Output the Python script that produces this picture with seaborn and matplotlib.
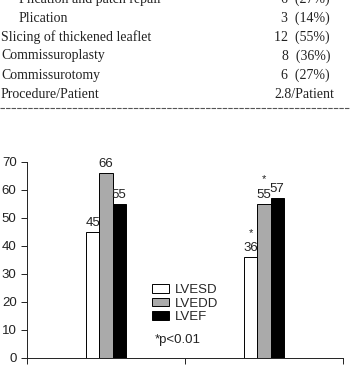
import pandas as pd
import matplotlib.pyplot as plt
import matplotlib.patches as mpatches
import seaborn as sns

# --- DATA ---
table_rows = ['Plication and patch repair', 'Plication', 'Slicing of thickened leaflet',
              'Commissuroplasty', 'Commissurotomy', 'Procedure/Patient']
table_values = ['6 (27%)', '3 (14%)', '12 (55%)', '8 (36%)', '6 (27%)', '2.8/Patient']
table_indent = [True, True, False, False, False, False]

groups = ['Preop', 'Postop']
measures = ['LVESD', 'LVEDD', 'LVEF']
values_pre = [45, 66, 55]
values_post = [36, 55, 57]
significant_post = [True, True, False]
bar_colors = ['white', '#aaaaaa', 'black']

rows = []
for g, vals in zip(groups, [values_pre, values_post]):
    for m, v in zip(measures, vals):
        rows.append({'group': g, 'measure': m, 'value': v})
df = pd.DataFrame(rows)

# --- FIGURE ---
sns.set_style('white')
plt.rcParams['font.family'] = ['Liberation Sans', 'DejaVu Sans']
fig = plt.figure(figsize=(3.5, 3.67), dpi=100)

# table fragment at the top (figure pixel coords -> fractions)
H = 367.0
W = 350.0
row_y = [-1, 18, 37, 56, 75, 94]
for name, val, ind, y in zip(table_rows, table_values, table_indent, row_y):
    fig.text((19 if ind else 1) / W, 1 - y / H, name, ha='left', va='center',
             family='Liberation Serif', fontsize=10, color='#222222')
    right = 334 if '/' in val else 330
    fig.text(right / W, 1 - y / H, val.replace(' ', '  '), ha='right', va='center',
             family='Liberation Serif', fontsize=10, color='#222222')
fig.add_artist(plt.Line2D([0, 1], [1 - 108 / H, 1 - 108 / H], color='#555555',
                          lw=0.8, linestyle=(0, (4, 1))))

# bar chart
ax = fig.add_axes([27 / W, 1 - 358 / H, 316 / W, (358 - 161.7) / H])
sns.barplot(data=df, x='group', y='value', hue='measure', palette=bar_colors,
            width=0.25, gap=0, edgecolor='black', linewidth=0.7, ax=ax, legend=False)

for i, cont in enumerate(ax.containers):
    ax.bar_label(cont, padding=2, fontsize=9.5, color='#222222')
    bar = cont.patches[1]
    if significant_post[i]:
        ax.annotate('*', (bar.get_x() + bar.get_width() / 2, bar.get_height()),
                    xytext=(0, 14), textcoords='offset points', ha='center',
                    va='bottom', fontsize=8, color='#222222')

ax.set_ylim(0, 70)
ax.set_xlim(-0.5, 1.5)
ax.set_yticks(range(0, 71, 10))
ax.set_xticks([-0.5, 0.5, 1.5])
ax.set_xticklabels([])
ax.set_xlabel('')
ax.set_ylabel('')
ax.tick_params(axis='both', which='both', direction='out', length=4, width=0.7,
               left=True, bottom=True, labelsize=9.5, colors='#222222')
for s in ['top', 'right']:
    ax.spines[s].set_visible(False)
for s in ['left', 'bottom']:
    ax.spines[s].set_color('#222222')
    ax.spines[s].set_linewidth(0.7)

handles = [mpatches.Patch(facecolor=c, edgecolor='black', linewidth=0.7) for c in bar_colors]
ax.legend(handles, measures, loc='upper left', bbox_to_anchor=(152 / W, 1 - 284 / H),
          bbox_transform=fig.transFigure, frameon=False, fontsize=9.5,
          handlelength=1.3, handleheight=0.6, labelspacing=0.12, handletextpad=0.4,
          borderpad=0, borderaxespad=0)
fig.text(155 / W, 1 - 340 / H, '*p<0.01', ha='left', va='center', fontsize=9.5,
         color='#222222')

fig.savefig('out.png', dpi=100)
